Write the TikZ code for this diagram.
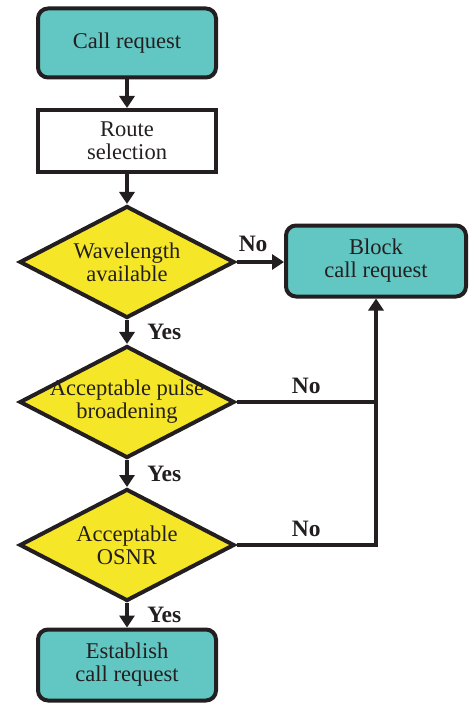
\documentclass[tikz,border=0pt]{standalone}
\usepackage{fontspec}
\setmainfont{Liberation Serif}
\usetikzlibrary{shapes.geometric,arrows.meta}

\definecolor{boxteal}{RGB}{98,198,194}
\definecolor{boxyellow}{RGB}{246,230,40}
\definecolor{inkgray}{RGB}{35,31,32}

\begin{document}
\begin{tikzpicture}[x=1pt,y=1pt,
    font=\fontsize{22.5}{23}\selectfont, text=inkgray,
    block_round/.style ={rectangle, rounded corners=10pt, draw=inkgray, line width=4pt, fill=boxteal,
      align=center,
      minimum width=178pt, minimum height=69pt},
    block_plain/.style ={rectangle, draw=inkgray, line width=4pt, fill=white,
      align=center,
      minimum width=178pt, minimum height=62pt},
    decision/.style ={diamond, draw=inkgray, line width=4pt, fill=boxyellow,
      inner sep=0pt, minimum width=215pt, minimum height=112pt},
    line/.style ={draw=inkgray, line width=4pt, -{Triangle[length=12pt,width=15pt]}},
    plainline/.style ={draw=inkgray, line width=4pt},
    answer/.style ={font=\fontsize{23.5}{24}\selectfont\bfseries}]
    \path[use as bounding box] (0,0) rectangle (471,-706);
    % main column
    \node[block_round] (call) at (127,-43) {Call request};
    \node[block_plain] (route) at (127,-141) {Route\\selection};
    \node[decision,label={[align=center]center:Wavelength\\available}] (wave) at (127,-262) {};
    \node[decision,label={[align=center]center:Acceptable pulse\\broadening}] (pulse) at (127,-402) {};
    \node[decision,label={[align=center]center:Acceptable\\OSNR}] (osnr) at (127,-545) {};
    \node[block_round,minimum height=71pt] (establish) at (127,-665) {Establish\\call request};
    % side box
    \node[block_round,minimum width=180pt,minimum height=71pt] (block) at (376,-261) {Block\\call request};
    % connectors
    \draw[line] (call) -- (route);
    \draw[line] (route) -- (wave);
    \draw[line] (wave) -- node[answer,midway,right=15pt]{Yes} (pulse);
    \draw[line] (pulse) -- node[answer,midway,right=15pt]{Yes} (osnr);
    \draw[line] (osnr) -- node[answer,midway,right=15pt]{Yes} (establish);
    \draw[line] (wave.east) -- node[answer,pos=0.35,above=5pt]{No} (wave.east -| block.west);
    \draw[plainline] (pulse.east) -- node[answer,midway,above=3pt]{No} (pulse.east -| block.south);
    \draw[line] (osnr.east) -- node[answer,midway,above=3pt]{No} (osnr.east -| block.south) -- (block.south);
\end{tikzpicture}
\end{document}
